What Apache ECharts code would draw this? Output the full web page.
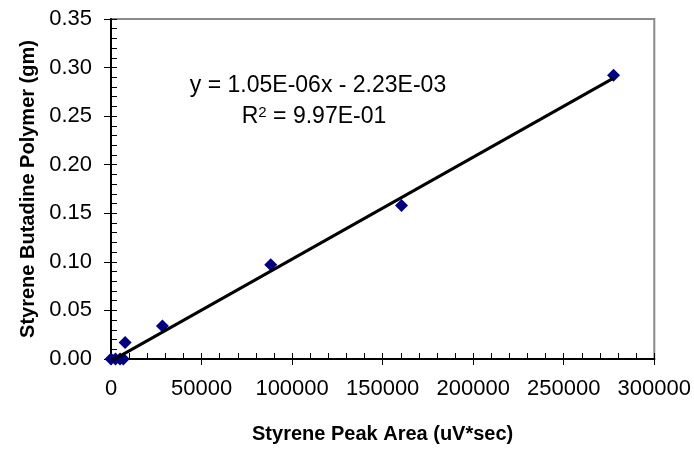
<!DOCTYPE html>
<html>
<head>
<meta charset="utf-8">
<script src="https://cdn.jsdelivr.net/npm/echarts@6/dist/echarts.min.js"></script>
<style>
  html, body { margin: 0; padding: 0; background: #fff; }
  #chart { width: 694px; height: 449px; }
</style>
</head>
<body>
<div id="chart"></div>
<script>
// Calibration points: styrene peak area vs. styrene butadine polymer mass
var peakArea = [0, 2500, 5000, 6800, 7800, 28400, 88200, 160400, 277500];
var polymerMass = [0, 0, 0, 0, 0.017, 0.034, 0.097, 0.158, 0.292];

// Linear trendline fit reported on the chart
var slope = 1.05E-06;
var intercept = -2.23E-03;
var rSquared = 9.97E-01;

var xTicks = [0, 50000, 100000, 150000, 200000, 250000, 300000];
var yTicks = [0.00, 0.05, 0.10, 0.15, 0.20, 0.25, 0.30, 0.35];

var FONT = '"Liberation Sans", Arial, sans-serif';
var TICK = 6;

// Excel-style scientific notation, e.g. 1.05E-06
function sci(v) {
  var parts = Math.abs(v).toExponential(2).toUpperCase().split('E');
  var exp = parseInt(parts[1], 10);
  var mag = (Math.abs(exp) < 10 ? '0' : '') + Math.abs(exp);
  return parts[0] + 'E' + (exp < 0 ? '-' : '+') + mag;
}

var points = peakArea.map(function (x, i) { return [x, polymerMass[i]]; });
var xLo = Math.min.apply(null, peakArea);
var xHi = Math.max.apply(null, peakArea);
var trend = [[xLo, slope * xLo + intercept], [xHi, slope * xHi + intercept]];

var eqText = 'y = ' + sci(slope) + 'x ' + (intercept < 0 ? '- ' : '+ ') + sci(Math.abs(intercept));
var r2Text = 'R{sup|2} = ' + sci(rSquared);

var xMin = xTicks[0], xMax = xTicks[xTicks.length - 1];
var yMin = yTicks[0], yMax = yTicks[yTicks.length - 1];
var xStep = xTicks[1] - xTicks[0];
var yStep = yTicks[1] - yTicks[0];

// Unlabelled companion axis, shifted into the plot by one tick length,
// so its major and minor ticks sit on the inner side of the axis line.
function innerTickAxis(pos, min, max, step) {
  return {
    type: 'value', min: min, max: max, interval: step, position: pos, offset: -TICK,
    axisLine: { show: false },
    axisTick: { show: true, inside: false, length: TICK, lineStyle: { color: '#000', width: 1 } },
    minorTick: { show: true, splitNumber: 5, length: TICK, lineStyle: { color: '#000', width: 1 } },
    axisLabel: { show: false },
    splitLine: { show: false }
  };
}

var chart = echarts.init(document.getElementById('chart'), null, { renderer: 'canvas' });

chart.setOption({
  animation: false,
  backgroundColor: '#fff',
  grid: {
    left: 111, right: 39, top: 19, bottom: 90,
    show: true, borderColor: '#8a8a8a', borderWidth: 2, backgroundColor: '#fff'
  },
  xAxis: [
    {
      type: 'value', min: xMin, max: xMax, interval: xStep, position: 'bottom',
      name: 'Styrene Peak Area (uV*sec)', nameLocation: 'middle', nameGap: 65,
      nameTextStyle: { fontFamily: FONT, fontSize: 20, fontWeight: 'bold', color: '#000' },
      axisLine: { show: true, lineStyle: { color: '#000', width: 2 } },
      axisTick: { show: true, inside: false, length: TICK, lineStyle: { color: '#000', width: 1 } },
      axisLabel: {
        fontFamily: FONT, fontSize: 22, color: '#000', margin: 19,
        formatter: function (v) { return String(v); }
      },
      splitLine: { show: false }
    },
    innerTickAxis('bottom', xMin, xMax, xStep)
  ],
  yAxis: [
    {
      type: 'value', min: yMin, max: yMax, interval: yStep, position: 'left',
      name: 'Styrene Butadine Polymer (gm)', nameLocation: 'middle', nameGap: 62,
      nameTextStyle: { fontFamily: FONT, fontSize: 20, fontWeight: 'bold', color: '#000' },
      axisLine: { show: true, lineStyle: { color: '#000', width: 2 } },
      axisTick: { show: true, inside: false, length: TICK + 1, lineStyle: { color: '#000', width: 1 } },
      axisLabel: {
        fontFamily: FONT, fontSize: 22, color: '#000', margin: 19,
        formatter: function (v) { return v.toFixed(2); }
      },
      splitLine: { show: false }
    },
    innerTickAxis('left', yMin, yMax, yStep)
  ],
  series: [
    {
      type: 'scatter', xAxisIndex: 0, yAxisIndex: 0,
      data: points, symbol: 'diamond', symbolSize: 13,
      itemStyle: { color: '#000080', opacity: 1 }, z: 3
    },
    {
      type: 'line', xAxisIndex: 0, yAxisIndex: 0,
      data: trend, showSymbol: false, symbol: 'none', clip: true,
      lineStyle: { color: '#000', width: 3 }, z: 4
    }
  ],
  graphic: [
    {
      type: 'text', x: 318, y: 86, z: 10,
      style: {
        text: eqText, font: '23px ' + FONT, fill: '#000',
        textAlign: 'center', textVerticalAlign: 'middle', align: 'center', verticalAlign: 'middle'
      }
    },
    {
      type: 'text', x: 314, y: 117, z: 10,
      style: {
        text: r2Text, font: '23px ' + FONT, fill: '#000',
        textAlign: 'center', textVerticalAlign: 'middle', align: 'center', verticalAlign: 'middle',
        rich: {
          sup: { fontFamily: FONT, fontSize: 15, verticalAlign: 'top', fill: '#000' }
        }
      }
    }
  ]
});
</script>
</body>
</html>
